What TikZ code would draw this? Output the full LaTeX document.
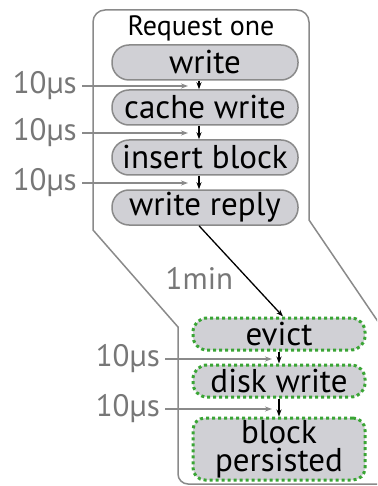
\documentclass[tikz,border=0pt]{standalone}
\usepackage{fontspec}
\setmainfont{PT Sans}
\usepackage{xcolor}
\usetikzlibrary{arrows.meta, positioning, calc}
\definecolor{boxgray}{HTML}{D0D0D5}
\definecolor{linegray}{HTML}{8A8A8A}
\definecolor{labelgray}{HTML}{777777}
\definecolor{dotgreen}{HTML}{3AA535}

\begin{document}
\begin{tikzpicture}[
    x=1pt, y=-1pt,
    op/.style={rectangle, draw=linegray, line width=1.5pt, fill=boxgray, rounded corners=17pt, minimum width=186pt, minimum height=35pt, inner sep=0pt, font=\fontsize{33}{33}\selectfont},
    disk/.style={rectangle, draw=dotgreen, line width=3pt, dash pattern=on 3pt off 3pt, fill=boxgray, rounded corners=14pt, minimum width=172pt, minimum height=32pt, inner sep=0pt, align=center, font=\fontsize{33}{28}\selectfont},
    arrow/.style={-{Stealth[length=7pt, width=5pt]}, line width=1.3pt},
    lat/.style={-{Stealth[length=7pt, width=5pt]}, draw=linegray, line width=1.3pt},
    time/.style={text=labelgray, inner sep=0pt, font=\fontsize{31}{31}\selectfont}
]
\useasboundingbox (0,0) rectangle (377,486);
\clip (0,0) rectangle (377,486);

% outline of the request
\draw[linegray, line width=1.5pt] (400,354) -- (309,220) [rounded corners=12pt] -- (309,10) -- (93,10) [sharp corners] -- (93,230) -- (178,327) [rounded corners=10pt] -- (178,484) -- (420,484);

% in memory
\node[font=\fontsize{28}{28}\selectfont] (title) at (201,28) {Request one};
\node[op] (write) at (205,62.5) {write};
\node[op] (cache) at (205,107.5) {cache write};
\node[op] (insert) at (205,157.5) {insert block};
\node[op] (reply) at (205,207.5) {write reply};

\coordinate (ax) at (199,0);
\draw[arrow] (write.south -| ax) -- (cache.north -| ax);
\draw[arrow] (cache.south -| ax) -- (insert.north -| ax);
\draw[arrow] (insert.south -| ax) -- (reply.north -| ax);

\node[time, anchor=east] (t1) at (77,86) {10µs};
\node[time, anchor=east] (t2) at (77,133) {10µs};
\node[time, anchor=east] (t3) at (77,183) {10µs};
\coordinate (g1) at (188,86);
\coordinate (g2) at (188,133);
\coordinate (g3) at (188,183);
\draw[lat] ([xshift=5pt]t1.east) -- (g1);
\draw[lat] ([xshift=5pt]t2.east) -- (g2);
\draw[lat] ([xshift=5pt]t3.east) -- (g3);

% on disk
\node[disk] (evict) at (279,334) {evict};
\node[disk] (dwrite) at (279,381) {disk write};
\node[disk, minimum height=62pt, rounded corners=12pt] (persist) at (279,449) {block\\persisted};

\draw[arrow] (reply.south -| ax) -- ([xshift=4pt]evict.north) node[pos=0.58, left=14pt, time] (delay) {1min};
\draw[arrow] (evict) -- (dwrite);
\draw[arrow] (dwrite) -- (persist);

\node[time, anchor=east] (t4) at (160,359) {10µs};
\node[time, anchor=east] (t5) at (160,409) {10µs};
\coordinate (g4) at (272,359);
\coordinate (g5) at (272,409);
\draw[lat] ([xshift=5pt]t4.east) -- (g4);
\draw[lat] ([xshift=5pt]t5.east) -- (g5);

\end{tikzpicture}
\end{document}
